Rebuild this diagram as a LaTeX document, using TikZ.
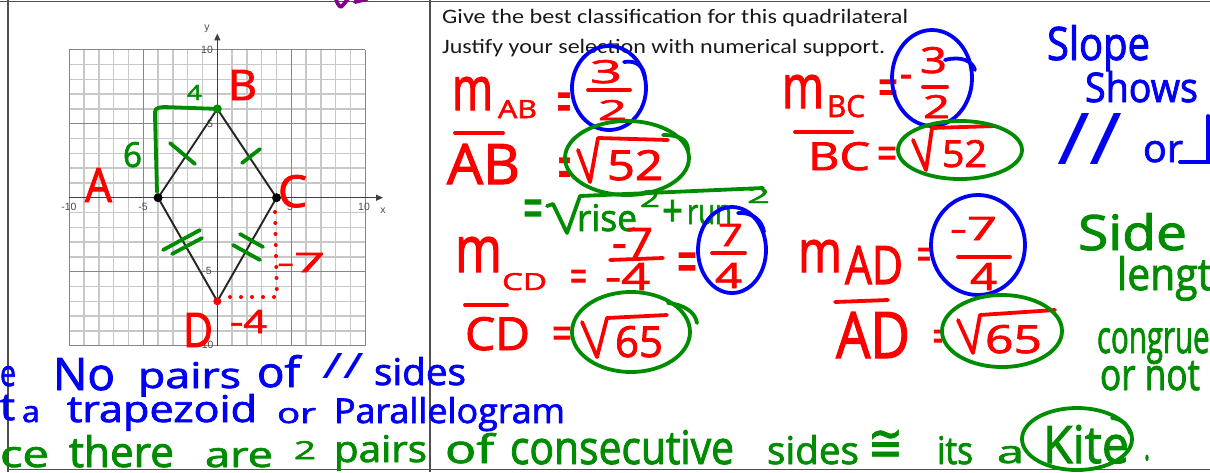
\documentclass[tikz,border=0pt]{standalone}
\usepackage{fontspec}
\usepackage{graphicx}
\usetikzlibrary{arrows.meta}
\setmainfont{Open Sans}
\newfontfamily\hwfont{Open Sans}[FakeBold=2]
\newfontfamily\hdrfont{Carlito}
\newfontfamily\lblfont{Liberation Sans}
\newfontfamily\symfont{DejaVu Sans}[FakeBold=1.5]
\definecolor{hred}{RGB}{252,0,0}
\definecolor{hblue}{RGB}{0,0,245}
\definecolor{hgreen}{RGB}{0,140,0}
\definecolor{hpurple}{RGB}{130,0,140}
\definecolor{gminor}{RGB}{200,200,200}
\definecolor{gmajor}{RGB}{135,135,135}
\definecolor{framec}{RGB}{80,80,80}
\newcommand\hwb[3]{\resizebox{#1pt}{#2pt}{#3}}
\tikzset{
  hw/.style={inner sep=0pt, outer sep=0pt, anchor=base west, font=\hwfont\fontsize{40}{40}\selectfont},
  ink/.style={line width=3.8pt, line cap=round, line join=round},
  frameline/.style={draw=framec, line width=1.6pt},
  minorline/.style={draw=gminor, line width=1.4pt},
  majorline/.style={draw=gmajor, line width=1.4pt},
  axisline/.style={draw=black!75, line width=1.4pt, -{Triangle[length=7pt,width=6pt]}},
  ticklbl/.style={inner sep=0pt, text=black!70, font=\lblfont\fontsize{10.5}{10.5}\selectfont},
  hdr/.style={inner sep=0pt, anchor=base west, text=black!90, font=\hdrfont\fontsize{20.5}{20.5}\selectfont},
  quadline/.style={draw=black!85, line width=1.9pt, line join=round},
  dotted red/.style={draw=hred, line width=4pt, line cap=round, dash pattern=on 0pt off 11pt},
}
\begin{document}
\begin{tikzpicture}[x=1pt,y=-1pt]
\useasboundingbox (0,0) rectangle (1210,472);
\clip (0,0) rectangle (1210,472);
\fill[white] (0,0) rectangle (1210,472);
% frame
\draw[frameline] (0,1.5) -- (1210,1.5);
\draw[frameline] (8,0) -- (8,472);
\draw[frameline] (430,0) -- (430,472);
\draw[frameline] (8,469.5) -- (1210,469.5);
% grid
\begin{scope}[shift={(217.3,197.7)}, x=14.8pt, y=14.8pt]
  \foreach \i in {-9,-8,-7,-6,-4,-3,-2,-1,1,2,3,4,6,7,8,9} {
    \draw[minorline] (\i,-10) -- (\i,10);
    \draw[minorline] (-10,\i) -- (10,\i);
  }
  \foreach \i in {-10,-5,5,10} {
    \draw[majorline] (\i,-10) -- (\i,10);
    \draw[majorline] (-10,\i) -- (10,\i);
  }
  \draw[axisline] (-10,0) -- (11.2,0);
  \draw[axisline] (0,-10) -- (0,11.1);
  \coordinate (A) at (-4,0);
  \coordinate (B) at (0,6);
  \coordinate (C) at (4,0);
  \coordinate (D) at (0,-7);
\end{scope}
% tick labels
\node[ticklbl] (t10y) at (207,50) {10};
\node[ticklbl] (t5y) at (210,124) {5};
\node[ticklbl] (tm5y) at (207,271) {-5};
\node[ticklbl] (tm10y) at (206,345) {-10};
\node[ticklbl] (tm10x) at (69,207) {-10};
\node[ticklbl] (tm5x) at (143,207) {-5};
\node[ticklbl] (t5x) at (290,207) {5};
\node[ticklbl] (t10x) at (364,207) {10};
\node[ticklbl] (lx) at (383,211) {x};
\node[ticklbl] (ly) at (207,29) {y};
% quadrilateral
\draw[quadline] (A) -- (B) -- (C) -- (D) -- cycle;
\fill[black] (A) circle (4.5pt);
\fill[black] (C) circle (4.5pt);
\fill[hgreen] (B) circle (4.5pt);
\fill[hred] (D) circle (4pt);
% green annotations on graph
\draw[ink,hgreen] (157,192) -- (155,116) .. controls (155,108) .. (164,107) -- (B);
\draw[ink,hgreen] (170,143) -- (195,164);
\draw[ink,hgreen] (242,163) -- (260,149);
\draw[ink,hgreen] (163,250) -- (200,230);
\draw[ink,hgreen] (172,254) -- (202,238);
\draw[ink,hgreen] (240,234) -- (263,247);
\draw[ink,hgreen] (233,245) -- (260,260);
\node[hw,text=hgreen] (g4) at (187,100) {\hwb{15}{15}{4}};
\node[hw,text=hgreen] (g6) at (123,167) {\hwb{19}{25}{6}};
% red annotations on graph
\draw[dotted red] (275,212) -- (277,298);
\draw[dotted red] (230,297) -- (277,297);
\node[hw,text=hred] (lA) at (85,202) {\hwb{27}{34}{A}};
\node[hw,text=hred] (lB) at (228,100) {\hwb{29}{30}{B}};
\node[hw,text=hred] (lC) at (278,207) {\hwb{29}{32}{C}};
\node[hw,text=hred] (lD) at (183,347) {\hwb{30}{34}{D}};
\node[hw,text=hred] (m7) at (277,272) {\hwb{48}{19}{-7}};
\node[hw,text=hred] (m4) at (230,333) {\hwb{37}{23}{-4}};
% purple mark
\draw[ink,hpurple] (336,-1) .. controls (338,6) and (341,9) .. (343,5) -- (348,-1);
\draw[ink,hpurple] (355,2) -- (367,-1);
% header
\node[hdr] (h1) at (442,23) {\resizebox{466pt}{\height}{Give the best classification for this quadrilateral}};
\node[hdr] (h2) at (442,53) {\resizebox{443pt}{\height}{Justify your selection with numerical support.}};
% ---- row 1 left
\node[hw,text=hred] (mAB) at (452,110) {\hwb{41}{33}{m}};
\node[hw,text=hred] (sAB) at (498,118) {\hwb{39}{18}{AB}};
\node[hw,text=hred,anchor=north west] (eq1) at (557,93) {\hwb{14}{31}{=}};
\node[hw,text=hred] (n1) at (590,83) {\hwb{32}{23}{3}};
\draw[ink,hred] (588,90) -- (630,90);
\node[hw,text=hred] (d1) at (598,120) {\hwb{29}{20}{2}};
\draw[ink,hblue] (609,88) ellipse [x radius=37pt, y radius=42pt];
\draw[ink,hblue] (624,62) .. controls (636,60) and (644,66) .. (645,78);
% ---- row 2 left
\draw[ink,hred] (455,133) -- (503,133);
\node[hw,text=hred] (AB1) at (447,184) {\hwb{73}{40}{AB}};
\node[hw,text=hred,anchor=north west] (eq2) at (558,158) {\hwb{13}{33}{=}};
\draw[ink,hred] (578,150) -- (590,182) -- (598,138) -- (668,140);
\node[hw,text=hred] (r52a) at (607,180) {\hwb{56}{30}{52}};
\draw[ink,hgreen] (627,158) ellipse [x radius=62pt, y radius=37pt];
\draw[ink,hgreen] (663,135) .. controls (680,135) and (688,140) .. (688,150);
% green formula
\node[hw,text=hgreen,anchor=north west] (eqg) at (523,200) {\hwb{20}{29}{=}};
\draw[ink,hgreen] (547,206) -- (553,204) -- (567,233) -- (580,196) -- (763,188);
\node[hw,text=hgreen] (rise) at (577,231) {\hwb{60}{27}{rise}};
\node[hw,text=hgreen] (sq1) at (640,207) {\hwb{20}{17}{2}};
\node[hw,text=hgreen,anchor=north west] (plus) at (662,200) {\hwb{21}{26}{+}};
\node[hw,text=hgreen] (run) at (687,224) {\hwb{45}{19}{run}};
\node[hw,text=hgreen] (sq2) at (747,203) {\hwb{23}{15}{2}};
% ---- row 3 left
\node[hw,text=hred] (mCD) at (455,272) {\hwb{47}{35}{m}};
\node[hw,text=hred] (sCD) at (502,290) {\hwb{45}{17}{CD}};
\node[hw,text=hred,anchor=north west] (eq3) at (570,270) {\hwb{17}{22}{=}};
\node[hw,text=hred] (n3) at (612,257) {\hwb{41}{29}{-7}};
\draw[ink,hred] (610,260) -- (663,258);
\node[hw,text=hred] (d3) at (605,290) {\hwb{45}{27}{-4}};
\node[hw,text=hred,anchor=north west] (eq4) at (677,253) {\hwb{20}{31}{=}};
\node[hw,text=hred] (n4) at (718,246) {\hwb{25}{22}{7}};
\draw[ink,hred] (712,253) -- (745,253);
\node[hw,text=hred] (d4) at (715,288) {\hwb{27}{25}{4}};
\draw[ink,hblue] (732,250) ellipse [x radius=34pt, y radius=43pt];
\draw[ink,hblue] (738,213) .. controls (752,212) and (762,220) .. (764,232);
% ---- row 4 left
\draw[ink,hred] (465,305) -- (507,305);
\node[hw,text=hred] (CD1) at (465,350) {\hwb{65}{33}{CD}};
\node[hw,text=hred,anchor=north west] (eq5) at (552,327) {\hwb{20}{22}{=}};
\draw[ink,hred] (582,322) -- (597,357) -- (607,318) -- (667,315);
\node[hw,text=hred] (r65a) at (615,357) {\hwb{48}{31}{65}};
\draw[ink,hgreen] (631,332) ellipse [x radius=59pt, y radius=40pt];
\draw[ink,hgreen] (668,303) .. controls (685,305) and (695,312) .. (697,323);
% ---- row 1 right
\node[hw,text=hred] (mBC) at (782,108) {\hwb{42}{33}{m}};
\node[hw,text=hred] (sBC) at (827,117) {\hwb{38}{22}{BC}};
\node[hw,text=hred,anchor=north west] (eq6) at (878,80) {\hwb{20}{26}{=}};
\node[hw,text=hred,anchor=north west] (neg6) at (900,75) {\hwb{12}{13}{-}};
\node[hw,text=hred] (n6) at (920,73) {\hwb{27}{26}{3}};
\draw[ink,hred] (923,87) -- (947,87);
\node[hw,text=hred] (d6) at (923,118) {\hwb{27}{23}{2}};
\draw[ink,hblue] (932,78) ellipse [x radius=40pt, y radius=48pt];
\draw[ink,hblue] (945,60) .. controls (960,56) and (972,60) .. (975,70);
% ---- row 2 right
\draw[ink,hred] (795,132) -- (852,132);
\node[hw,text=hred] (BC1) at (808,170) {\hwb{62}{28}{BC}};
\node[hw,text=hred,anchor=north west] (eq7) at (877,147) {\hwb{20}{22}{=}};
\draw[ink,hred] (913,140) -- (926,170) -- (932,128) -- (995,126);
\node[hw,text=hred] (r52b) at (942,167) {\hwb{45}{27}{52}};
\draw[ink,hgreen] (960,150) ellipse [x radius=62pt, y radius=29pt];
% ---- row 3 right
\node[hw,text=hred] (mAD) at (798,272) {\hwb{44}{32}{m}};
\node[hw,text=hred] (sAD) at (845,284) {\hwb{58}{38}{AD}};
\node[hw,text=hred,anchor=north west] (eq8) at (917,248) {\hwb{14}{22}{=}};
\node[hw,text=hred] (n8) at (950,240) {\hwb{47}{23}{-7}};
\draw[ink,hred] (958,257) -- (1010,257);
\node[hw,text=hred] (d8) at (970,290) {\hwb{27}{27}{4}};
\draw[ink,hblue] (978,245) ellipse [x radius=47pt, y radius=50pt];
% ---- row 4 right
\draw[ink,hred] (835,302) -- (888,300);
\node[hw,text=hred] (AD1) at (836,358) {\hwb{74}{46}{AD}};
\node[hw,text=hred,anchor=north west] (eq9) at (933,330) {\hwb{10}{22}{=}};
\draw[ink,hred] (958,320) -- (973,353) -- (980,315) -- (1055,310);
\node[hw,text=hred] (r65b) at (985,353) {\hwb{57}{28}{65}};
\draw[ink,hgreen] (1002,331) ellipse [x radius=60pt, y radius=36pt];
% ---- right notes
\node[hw,text=hblue] (slope) at (1047,60) {\hwb{103}{35}{Slope}};
\node[hw,text=hblue] (shows) at (1085,102) {\hwb{113}{31}{Shows}};
\node[inner sep=0pt,text=hblue,font=\fontsize{40}{40}\selectfont] (par1) at (1090,139) {\resizebox*{66pt}{51pt}{//}};
\node[hw,text=hblue] (or1) at (1143,162) {\hwb{40}{21}{or}};
\draw[ink,hblue] (1180,162) -- (1214,162);
\draw[ink,hblue] (1208,116) -- (1208,162);
\node[hw,text=hgreen] (side) at (1078,250) {\hwb{109}{37}{Side}};
\node[hw,text=hgreen] (length) at (1117,290) {\hwb{120}{34}{length}};
\node[hw,text=hgreen] (congr) at (1097,353) {\hwb{141}{30}{congruent}};
\node[hw,text=hgreen] (ornot) at (1100,390) {\hwb{100}{29}{or not}};
% ---- bottom line 1 (blue)
\node[hw,text=hblue] (b1a) at (0,386) {\hwb{16}{20}{e}};
\node[hw,text=hblue] (b1b) at (53,390) {\hwb{62}{32}{No}};
\node[hw,text=hblue] (b1c) at (138,388) {\hwb{103}{26}{pairs}};
\node[hw,text=hblue] (b1d) at (257,387) {\hwb{43}{32}{of}};
\node[inner sep=0pt,text=hblue,font=\fontsize{40}{40}\selectfont] (b1e) at (343,366) {\resizebox*{42pt}{25pt}{//}};
\node[hw,text=hblue] (b1f) at (374,385) {\hwb{92}{28}{sides}};
% ---- bottom line 2 (blue)
\node[hw,text=hblue] (b2a) at (0,420) {\hwb{15}{25}{t}};
\node[hw,text=hblue] (b2b) at (22,422) {\hwb{18}{16}{a}};
\node[hw,text=hblue] (b2c) at (67,422) {\hwb{190}{28}{trapezoid}};
\node[hw,text=hblue] (b2d) at (277,423) {\hwb{39}{15}{or}};
\node[hw,text=hblue] (b2e) at (334,423) {\hwb{231}{26}{Parallelogram}};
% ---- bottom line 3 (green)
\node[hw,text=hgreen] (b3a) at (0,467) {\hwb{49}{20}{ce}};
\node[hw,text=hgreen] (b3b) at (69,467) {\hwb{105}{32}{there}};
\node[hw,text=hgreen] (b3c) at (205,467) {\hwb{68}{19}{are}};
\node[hw,text=hgreen] (b3d) at (294,459) {\hwb{22}{18}{2}};
\node[hw,text=hgreen] (b3e) at (334,462) {\hwb{93}{27}{pairs}};
\node[hw,text=hgreen] (b3f) at (445,463) {\hwb{49}{30}{of}};
\node[hw,text=hgreen] (b3g) at (510,464) {\hwb{224}{34}{consecutive}};
\node[hw,text=hgreen] (b3h) at (767,464) {\hwb{92}{29}{sides}};
\node[hw,text=hgreen,anchor=north west,font=\symfont\fontsize{40}{40}\selectfont] (b3i) at (868,430) {\hwb{35}{31}{≅}};
\node[hw,text=hgreen] (b3j) at (937,464) {\hwb{36}{28}{its}};
\node[hw,text=hgreen] (b3k) at (997,463) {\hwb{27}{17}{a}};
\node[hw,text=hgreen] (b3l) at (1043,463) {\hwb{86}{38}{Kite}};
\node[hw,text=hgreen] (b3m) at (1144,460) {\hwb{6}{5}{.}};
\draw[ink,hgreen] (1077,439) ellipse [x radius=55pt, y radius=31pt];
\draw[ink,hgreen] (1112,418) .. controls (1122,419) and (1128,425) .. (1130,433);
\end{tikzpicture}
\end{document}
